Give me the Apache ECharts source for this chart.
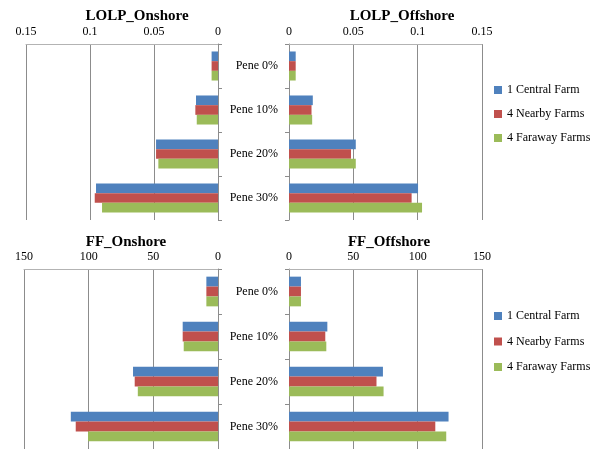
<!DOCTYPE html>
<html><head><meta charset="utf-8">
<script src="https://cdn.jsdelivr.net/npm/echarts@6/dist/echarts.min.js"></script>
<style>html,body{margin:0;padding:0;background:#fff}#c{width:600px;height:449px}</style>
</head><body><div id="c"></div>
<script>
var categories = ['Pene 0%', 'Pene 10%', 'Pene 20%', 'Pene 30%'];
var seriesNames = ['1 Central Farm', '4 Nearby Farms', '4 Faraway Farms'];
var colors = ['#4F81BD', '#C0504D', '#9BBB59'];
var panelTitles = ['LOLP_Onshore', 'LOLP_Offshore', 'FF_Onshore', 'FF_Offshore'];

var lolpOnCentral = [0.005, 0.0172, 0.0484, 0.0953];
var lolpOnNearby  = [0.005, 0.0177, 0.0484, 0.0963];
var lolpOnFaraway = [0.005, 0.0166, 0.0466, 0.0906];

var lolpOffCentral = [0.0052, 0.0185, 0.0519, 0.1003];
var lolpOffNearby  = [0.0052, 0.0175, 0.0482, 0.0953];
var lolpOffFaraway = [0.0052, 0.0180, 0.0519, 0.1034];

var ffOnCentral = [9.0, 27.3, 65.7, 113.8];
var ffOnNearby  = [9.0, 27.3, 64.4, 110.0];
var ffOnFaraway = [9.0, 26.5, 62.0, 100.5];

var ffOffCentral = [9.3, 29.8, 73.0, 124.0];
var ffOffNearby  = [9.3, 28.2, 68.0, 113.7];
var ffOffFaraway = [9.3, 29.0, 73.5, 122.2];

var panelData = [
  [lolpOnCentral, lolpOnNearby, lolpOnFaraway],
  [lolpOffCentral, lolpOffNearby, lolpOffFaraway],
  [ffOnCentral, ffOnNearby, ffOnFaraway],
  [ffOffCentral, ffOffNearby, ffOffFaraway]
];
var axisMax = [0.15, 0.15, 150, 150];
var axisInterval = [0.05, 0.05, 50, 50];

var font = 'Liberation Serif';
var grids = [
  {left: 26, right: 382, top: 44, height: 176},
  {left: 289, right: 118, top: 44, height: 176},
  {left: 24, right: 382, top: 269, height: 180},
  {left: 289, right: 118, top: 269, height: 180}
];
var titlePos = [[132, 4], [397, 4], [121, 230], [384, 230]];

var xAxes = [], yAxes = [], series = [], titles = [];
for (var p = 0; p < 4; p++) {
  var isLeft = (p % 2 === 0);
  xAxes.push({
    gridIndex: p, type: 'value', position: 'top', inverse: isLeft,
    min: 0, max: axisMax[p], interval: axisInterval[p],
    axisLine: {show: true, lineStyle: {color: '#b3b3b3', width: 1}},
    axisTick: {show: false},
    axisLabel: {color: '#000', fontFamily: font, fontSize: 12, margin: 6,
      formatter: function (v) { return String(+v.toFixed(4)); }},
    splitLine: {show: true, lineStyle: {color: '#8c8c8c', width: 1}}
  });
  yAxes.push({
    gridIndex: p, type: 'category', data: categories, inverse: true,
    position: isLeft ? 'right' : 'left',
    axisLine: {show: true, lineStyle: {color: '#8c8c8c', width: 1}},
    axisTick: {show: true, length: 4, lineStyle: {color: '#8c8c8c'}},
    axisLabel: {show: !isLeft, color: '#000', fontFamily: font, fontSize: 12, margin: 11}
  });
  titles.push({
    text: panelTitles[p], left: titlePos[p][0], top: titlePos[p][1], textAlign: 'center',
    textStyle: {fontFamily: font, fontSize: 15, fontWeight: 'bold', color: '#000'}
  });
  for (var s = 0; s < 3; s++) {
    series.push({
      type: 'bar', name: seriesNames[s], xAxisIndex: p, yAxisIndex: p,
      data: panelData[p][s], barGap: '0%', barCategoryGap: '34%',
      itemStyle: {color: colors[s]}, silent: true, animation: false
    });
  }
}

var legendBase = {
  orient: 'vertical', left: 494, padding: 0, itemWidth: 8, itemHeight: 8,
  icon: 'rect', data: seriesNames, selectedMode: false,
  textStyle: {fontFamily: font, fontSize: 12, color: '#000'}
};
var legends = [
  Object.assign({}, legendBase, {top: 84, itemGap: 12}),
  Object.assign({}, legendBase, {top: 310, itemGap: 13.5})
];

var chart = echarts.init(document.getElementById('c'), null, {renderer: 'canvas'});
chart.setOption({
  animation: false,
  backgroundColor: '#fff',
  title: titles,
  legend: legends,
  grid: grids,
  xAxis: xAxes,
  yAxis: yAxes,
  series: series
});
</script></body></html>
